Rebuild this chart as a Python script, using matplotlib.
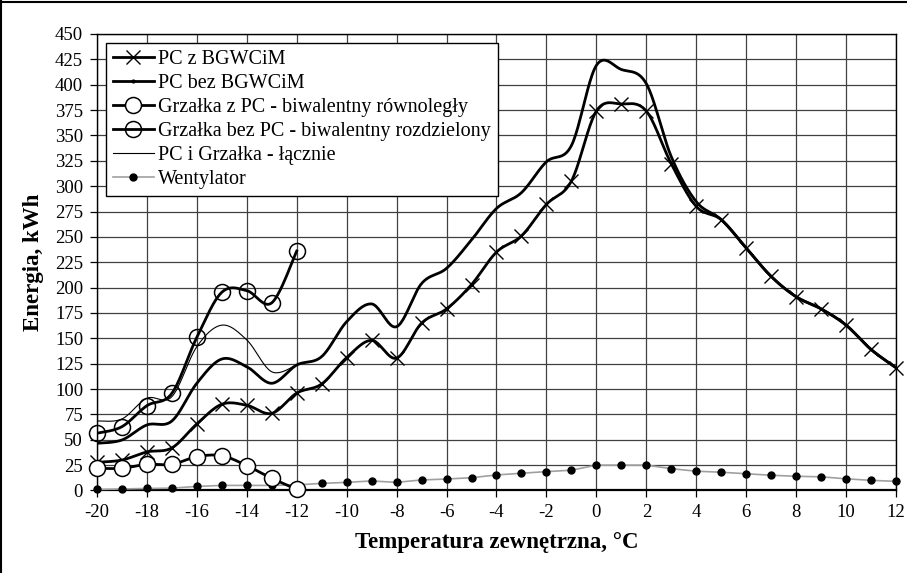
# Wykres energii w funkcji temperatury zewnętrznej
import numpy as np
import matplotlib
matplotlib.use('Agg')
import matplotlib.pyplot as plt
from matplotlib.lines import Line2D

plt.rcParams['font.family'] = ['Liberation Serif', 'DejaVu Serif']
plt.rcParams['axes.unicode_minus'] = False

# Temperatury zewnętrzne (oś X)
temperatury = list(range(-20, 13))

# Energia, kWh
pc_z_bgwcim = [27.8, 30, 38, 42, 65.6, 85, 84, 76, 96, 105, 131, 148, 130.5, 165, 179, 203,
               235, 251, 282, 305, 374, 381, 374, 322, 280, 267, 239, 211, 191, 179, 163, 139, 121]
pc_bez_bgwcim = [46.5, 49.8, 64.6, 68.5, 105.7, 129.6, 122, 105.7, 123.7, 132, 166.4, 183.9, 161.5,
                 204, 219, 247, 278, 293.6, 324, 340, 419, 415, 401, 329, 284.7, 267, 239, 211, 191,
                 179, 163, 139, 121]
temp_grzalka = list(range(-20, -11))
grzalka_z_pc = [21.9, 21.9, 25.8, 25.8, 33.3, 34.3, 24.5, 12, 1.2]
grzalka_bez_pc = [56.4, 62.9, 83.6, 95.8, 151, 195.4, 197, 185, 236]
pc_i_grzalka = [68.5, 70.5, 90.9, 92.5, 141.8, 163, 148.4, 117, 123.7]
wentylator = [1, 1.5, 2, 2.3, 4, 5, 5, 5, 5.5, 7, 8, 9.4, 8, 10.4, 11.3, 12.6, 15.3, 17, 18.6, 20,
              25, 25, 25, 21.5, 19, 18, 16.5, 15, 14, 13.5, 11.5, 10, 9]


# Wygładzona linia jak w Excelu (krzywe Beziera przez punkty)
def gladka(x, y, n=24):
    p = np.column_stack([x, y]).astype(float)
    wynik = [p[:1]]
    t = np.linspace(0, 1, n)[1:, None]
    for i in range(len(p) - 1):
        p0 = p[i - 1] if i > 0 else p[i]
        p3 = p[i + 2] if i + 2 < len(p) else p[i + 1]
        c1 = p[i] + (p[i + 1] - p0) / 6
        c2 = p[i + 1] - (p3 - p[i]) / 6
        seg = ((1 - t) ** 3) * p[i] + 3 * ((1 - t) ** 2) * t * c1 + 3 * (1 - t) * t ** 2 * c2 + t ** 3 * p[i + 1]
        wynik.append(seg)
    w = np.vstack(wynik)
    return w[:, 0], w[:, 1]


fig = plt.figure(figsize=(9.07, 5.73), dpi=100)
ax = fig.add_axes([0.1069, 0.144, 0.881, 0.7967])

ax.set_xlim(-20, 12)
ax.set_ylim(0, 450)
ax.set_xticks(range(-20, 13, 2))
ax.set_yticks(range(0, 451, 25))
ax.grid(True, color='#404040', linewidth=0.9)
ax.set_axisbelow(True)
for s in ax.spines.values():
    s.set_linewidth(1.0)
ax.spines['bottom'].set_linewidth(1.6)
ax.tick_params(direction='out', length=5, width=0.9, labelsize=13.5, pad=5)

# Wentylator - szara linia prosta z kropkami
ax.plot(temperatury, wentylator, color='#a0a0a0', lw=1.2, marker='o', ms=5,
        mfc='black', mec='black', clip_on=False, zorder=3)

# Linie wygładzone
gx, gy = gladka(temperatury, pc_bez_bgwcim)
ax.plot(gx, gy, color='black', lw=2.0, zorder=4)
gx, gy = gladka(temperatury, pc_z_bgwcim)
ax.plot(gx, gy, color='black', lw=2.0, zorder=4)
ax.plot(temperatury, pc_z_bgwcim, ls='none', marker='x', ms=9.5, mew=1.0, color='black',
        clip_on=False, zorder=5)
gx, gy = gladka(temp_grzalka, pc_i_grzalka)
ax.plot(gx, gy, color='black', lw=0.8, zorder=4)
gx, gy = gladka(temp_grzalka, grzalka_bez_pc)
ax.plot(gx, gy, color='black', lw=2.0, zorder=4)
ax.plot(temp_grzalka, grzalka_bez_pc, ls='none', marker='o', ms=11.5, mew=1.1, mfc='none',
        mec='black', clip_on=False, zorder=5)
gx, gy = gladka(temp_grzalka, grzalka_z_pc)
ax.plot(gx, gy, color='black', lw=2.0, zorder=4)
ax.plot(temp_grzalka, grzalka_z_pc, ls='none', marker='o', ms=11.5, mew=1.1, mfc='white',
        mec='black', clip_on=False, zorder=6)

# Legenda
uchwyty = [
    Line2D([], [], color='black', lw=2.0, marker='x', ms=9.5, mew=1.0),
    Line2D([], [], color='black', lw=2.0, marker='o', ms=2),
    Line2D([], [], color='black', lw=2.0, marker='o', ms=11.5, mfc='white', mew=1.1),
    Line2D([], [], color='black', lw=2.0, marker='o', ms=11.5, mfc='none', mew=1.1),
    Line2D([], [], color='black', lw=0.8),
    Line2D([], [], color='#a0a0a0', lw=1.2, marker='o', ms=5, mfc='black', mec='black'),
]
etykiety = ['PC z BGWCiM', 'PC bez BGWCiM', 'Grzałka z PC - biwalentny równoległy',
            'Grzałka bez PC - biwalentny rozdzielony', 'PC i Grzałka - łącznie', 'Wentylator']
leg = ax.legend(uchwyty, etykiety, loc='upper left', bbox_to_anchor=(0.011, 0.980),
                borderaxespad=0, fontsize=14.5, handlelength=2.05, handletextpad=0.2,
                labelspacing=0.24, borderpad=0.35, fancybox=False, framealpha=1,
                edgecolor='black')
leg.get_frame().set_linewidth(1.0)
leg.set_zorder(10)

ax.set_xlabel('Temperatura zewnętrzna, °C', fontsize=16.5, fontweight='bold', labelpad=8)
ax.set_ylabel('Energia, kWh', fontsize=16.5, fontweight='bold', labelpad=8)

# Ramka obrazka (lewa i górna krawędź)
fig.add_artist(Line2D([0.0015, 0.0015], [0, 1], transform=fig.transFigure, color='black', lw=1.5))
fig.add_artist(Line2D([0, 1], [0.9965, 0.9965], transform=fig.transFigure, color='black', lw=1.5))

fig.savefig('out.png', dpi=100)
